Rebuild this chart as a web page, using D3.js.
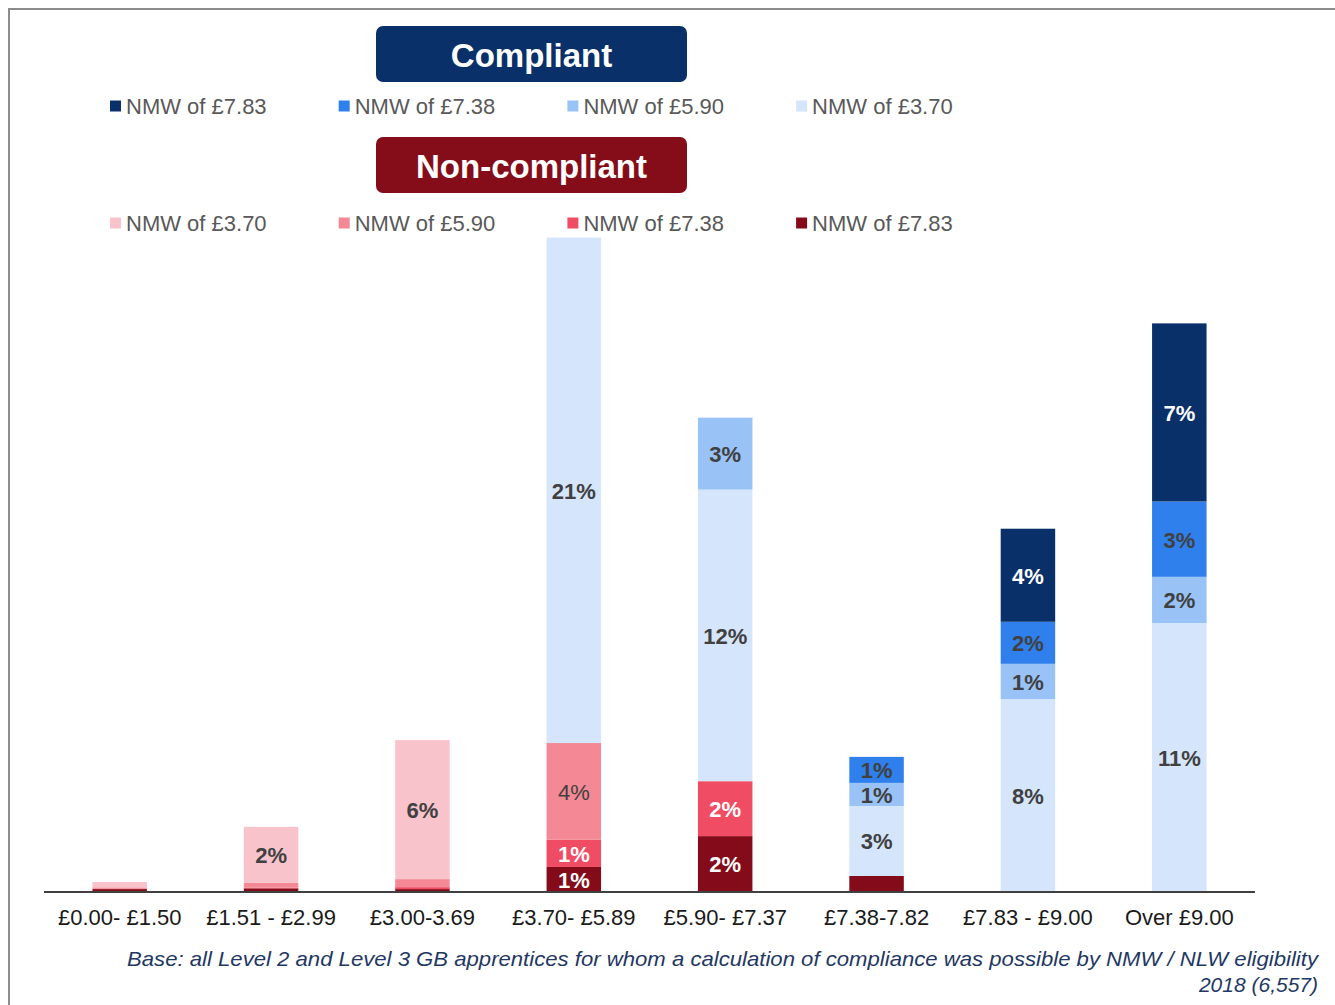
<!DOCTYPE html>
<html><head><meta charset="utf-8">
<script src="https://cdn.jsdelivr.net/npm/d3@7"></script>
<style>
body{margin:0;background:#fff;}
svg text{font-family:"Liberation Sans",Arial,sans-serif;}
</style></head>
<body>
<svg id="chart" width="1335" height="1005"></svg>
<script>
const categories = ["£0.00- £1.50","£1.51 - £2.99","£3.00-3.69","£3.70- £5.89","£5.90- £7.37","£7.38-7.82","£7.83 - £9.00","Over £9.00"];
// stacked bottom -> top
const nc783 = [0.12, 0.15, 0.12, 1.03, 2.30, 0.66, 0, 0];
const nc738 = [0.02, 0.03, 0.08, 1.12, 2.26, 0, 0, 0];
const nc590 = [0.05, 0.20, 0.33, 3.98, 0, 0, 0, 0];
const nc370 = [0.22, 2.30, 5.72, 0, 0, 0, 0, 0];
const c370  = [0, 0, 0, 20.8, 12.0, 2.88, 7.94, 11.07];
const c590  = [0, 0, 0, 0, 2.96, 0.95, 1.45, 1.90];
const c738  = [0, 0, 0, 0, 0, 1.07, 1.73, 3.10];
const c783  = [0, 0, 0, 0, 0, 0, 3.83, 7.33];

const seriesKeys = ["nc783","nc738","nc590","nc370","c370","c590","c738","c783"];
const seriesValues = {nc783, nc738, nc590, nc370, c370, c590, c738, c783};
const seriesNames = {
  nc783:"NMW of £7.83", nc738:"NMW of £7.38", nc590:"NMW of £5.90", nc370:"NMW of £3.70",
  c370:"NMW of £3.70", c590:"NMW of £5.90", c738:"NMW of £7.38", c783:"NMW of £7.83"
};
const colors = {
  nc783:"#840b19", nc738:"#f04c63", nc590:"#f48895", nc370:"#f9c3cc",
  c370:"#d5e5fb", c590:"#99c2f7", c738:"#2f80ec", c783:"#0a3069"
};
const whiteLabel = {nc783:true, nc738:true, c783:true};
const compliantLegend = ["c783","c738","c590","c370"];
const nonCompliantLegend = ["nc370","nc590","nc738","nc783"];
const footnote1 = "Base: all Level 2 and Level 3 GB apprentices for whom a calculation of compliance was possible by NMW / NLW eligibility";
const footnote2 = "2018 (6,557)";

const svg = d3.select("#chart");

// frame
svg.append("rect").attr("x",9).attr("y",9).attr("width",1340).attr("height",1010)
  .attr("fill","none").attr("stroke","#8c8c8c").attr("stroke-width",2);

const x = d3.scaleBand().domain(categories).range([44,1255]).paddingInner(0.64).paddingOuter(0.32);
const y = d3.scaleLinear().domain([0,30]).range([892, 892-30*24.3]);

const table = categories.map((c,i)=>{
  const o = {cat:c};
  seriesKeys.forEach(k=>o[k]=seriesValues[k][i]);
  return o;
});
const stacked = d3.stack().keys(seriesKeys)(table);

const g = svg.append("g");
stacked.forEach(s=>{
  g.selectAll(null).data(s.filter(d=>d[1]-d[0]>0)).enter().append("rect")
    .attr("x",d=>x(d.data.cat))
    .attr("width",x.bandwidth())
    .attr("y",d=>y(d[1]))
    .attr("height",d=>y(d[0])-y(d[1]))
    .attr("fill",colors[s.key]);
});
// labels
stacked.forEach(s=>{
  g.selectAll(null).data(s.filter(d=>d[1]-d[0]>=0.9)).enter().append("text")
    .attr("x",d=>x(d.data.cat)+x.bandwidth()/2)
    .attr("y",d=>(y(d[0])+y(d[1]))/2)
    .attr("dy","0.38em")
    .attr("text-anchor","middle")
    .attr("font-size",22)
    .attr("font-weight",s.key==="nc590"?"normal":"bold")
    .attr("fill",whiteLabel[s.key]?"#ffffff":"#404040")
    .text(d=>Math.round(d[1]-d[0])+"%");
});

// axis
const xAxis = d3.axisBottom(x).tickSize(0).tickPadding(17);
const ax = svg.append("g").attr("transform","translate(0,892)").call(xAxis);
ax.select(".domain").attr("stroke","#404040").attr("stroke-width",2).attr("d","M44,0H1255");
ax.selectAll("text").attr("font-size",22).attr("fill","#1a1a1a")
  .attr("font-family","'Liberation Sans',Arial,sans-serif");

// legend headers
function header(yTop, label, fill){
  svg.append("rect").attr("x",376).attr("y",yTop).attr("width",311).attr("height",56)
    .attr("rx",7).attr("fill",fill);
  svg.append("text").attr("x",531.5).attr("y",yTop+29).attr("dy","0.36em")
    .attr("text-anchor","middle").attr("font-size",33).attr("font-weight","bold")
    .attr("fill","#ffffff").text(label);
}
header(26,"Compliant","#0a3069");
header(137,"Non-compliant","#850c19");

function legendRow(keys, cy){
  const lg = svg.append("g");
  keys.forEach((k,i)=>{
    const lx = 110 + i*228.7;
    lg.append("rect").attr("x",lx).attr("y",cy-5.5).attr("width",11).attr("height",11).attr("fill",colors[k]);
    lg.append("text").attr("x",lx+16).attr("y",cy).attr("dy","0.36em")
      .attr("font-size",22).attr("fill","#595959").text(seriesNames[k]);
  });
}
legendRow(compliantLegend,106);
legendRow(nonCompliantLegend,223);

// footnote
svg.append("text").attr("x",1318).attr("y",958).attr("dy","0.36em").attr("text-anchor","end")
  .attr("font-size",21).attr("font-style","italic").attr("fill","#1f3864")
  .attr("textLength",1191).attr("lengthAdjust","spacingAndGlyphs").text(footnote1);
svg.append("text").attr("x",1318).attr("y",984).attr("dy","0.36em").attr("text-anchor","end")
  .attr("font-size",21).attr("font-style","italic").attr("fill","#1f3864").text(footnote2);
</script>
</body></html>
